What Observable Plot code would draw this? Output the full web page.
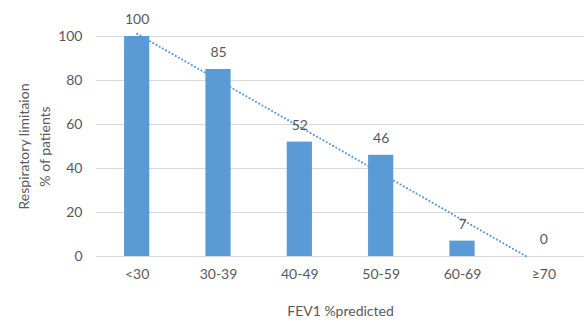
<!DOCTYPE html>
<html>
<head>
<meta charset="utf-8">
<script src="https://cdn.jsdelivr.net/npm/d3@7"></script>
<script src="https://cdn.jsdelivr.net/npm/@observablehq/plot@0.6"></script>
<style>
  html, body { margin: 0; padding: 0; background: #fff; }
  #chart svg { display: block; }
</style>
</head>
<body>
<div id="chart"></div>
<script>
const categories = ["<30", "30-39", "40-49", "50-59", "60-69", "≥70"];
const values = [100, 85, 52, 46, 7, 0];
const yTicks = [0, 20, 40, 60, 80, 100];
const yTitle = "Respiratory limitaion\n% of patients";
const xTitle = "FEV1 %predicted";

const data = categories.map((c, i) => ({i, c, v: values[i]}));

// Linear trendline (least squares over category index), clipped at 0
const n = values.length;
const mx = d3.mean(data, d => d.i), my = d3.mean(values);
const sxy = d3.sum(data, d => (d.i - mx) * (d.v - my));
const sxx = d3.sum(data, d => (d.i - mx) ** 2);
const slope = sxy / sxx, intercept = my - slope * mx;
const xEnd = Math.min(n - 1, -intercept / slope);
const trend = [{x: 0, y: intercept}, {x: xEnd, y: intercept + slope * xEnd}];

const textColor = "#595959";
const font = "Lato, 'Open Sans', sans-serif";
const halfW = 0.155;

const chart = Plot.plot({
  width: 584,
  height: 323,
  marginTop: 36,
  marginBottom: 67,
  marginLeft: 96,
  marginRight: 0,
  style: {fontFamily: font, fontSize: "14px", color: textColor, background: "#fff"},
  x: {domain: [-0.5, n - 0.5], axis: null},
  y: {domain: [0, 100], axis: null},
  marks: [
    Plot.ruleY(yTicks, {stroke: "#d9d9d9", strokeWidth: 1}),
    Plot.rectY(data, {x1: d => d.i - halfW, x2: d => d.i + halfW, y: "v", fill: "#5b9bd5"}),
    Plot.line(trend, {x: "x", y: "y", stroke: "#5b9bd5", strokeWidth: 2.2, strokeLinecap: "round", strokeDasharray: "0 3.7"}),
    Plot.text(data, {x: "i", y: "v", text: d => String(d.v), dy: -17, fill: textColor, fontSize: 14}),
    Plot.axisY({ticks: yTicks, tickSize: 0, tickPadding: 14, fill: textColor, fontSize: 14, label: null}),
    Plot.axisX({ticks: d3.range(n), tickFormat: i => categories[i], tickSize: 0, tickPadding: 13, fill: textColor, fontSize: 14, label: null}),
    Plot.text([xTitle], {frameAnchor: "bottom", dy: 59, text: d => d, fill: textColor, fontSize: 14}),
    Plot.text([yTitle], {frameAnchor: "left", textAnchor: "middle", dx: -64, rotate: -90, text: d => d, fill: textColor, fontSize: 14, lineHeight: 1.5, letterSpacing: "0.6px"})
  ]
});
document.getElementById("chart").append(chart);
</script>
</body>
</html>
